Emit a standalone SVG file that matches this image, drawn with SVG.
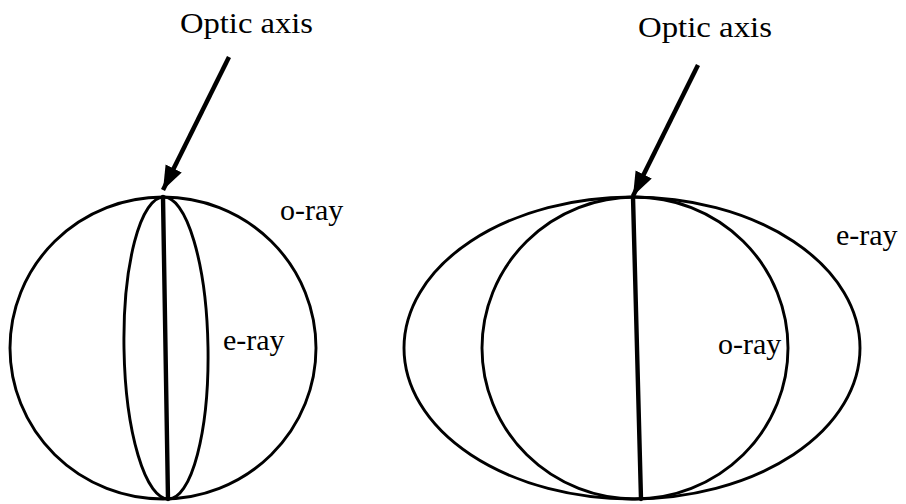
<svg xmlns="http://www.w3.org/2000/svg" width="906" height="504" viewBox="0 0 906 504">
<style>
.o{fill:none;stroke:#000;stroke-width:2.9}
.ax{stroke:#000;stroke-width:4.4;stroke-linecap:round}
.arr{stroke:#000;stroke-width:4.5;fill:none}
text{font-family:"Liberation Serif","Times New Roman",serif;font-size:30px;fill:#000}
</style>
<defs>
<marker id="ah" markerUnits="userSpaceOnUse" markerWidth="26" markerHeight="22" refX="24" refY="10" orient="auto" viewBox="0 0 26 20">
<path d="M0,1 L24,10 L0,19 Z" fill="#000"/>
</marker>
</defs>
<g id="left">
<ellipse class="o" cx="163" cy="348" rx="153" ry="151"/>
<ellipse class="o" cx="166" cy="348" rx="42" ry="151" transform="rotate(-0.95 166 348)"/>
<line class="ax" x1="163" y1="197" x2="168" y2="499"/>
<text x="180" y="33" textLength="133" lengthAdjust="spacingAndGlyphs">Optic axis</text>
<text x="280" y="220">o-ray</text>
<text x="223" y="350">e-ray</text>
</g>
<g id="right">
<ellipse class="o" cx="632" cy="348" rx="228" ry="151"/>
<ellipse class="o" cx="635" cy="348" rx="153" ry="151"/>
<line class="ax" x1="633" y1="197" x2="641" y2="499"/>
<text x="638" y="37" textLength="134" lengthAdjust="spacingAndGlyphs">Optic axis</text>
<text x="836" y="245">e-ray</text>
<text x="718" y="354">o-ray</text>
</g>
<g id="connectors">
<line class="arr" x1="229" y1="57" x2="163" y2="190" marker-end="url(#ah)"/>
<line class="arr" x1="698" y1="65" x2="633" y2="196" marker-end="url(#ah)"/>
</g>
</svg>
